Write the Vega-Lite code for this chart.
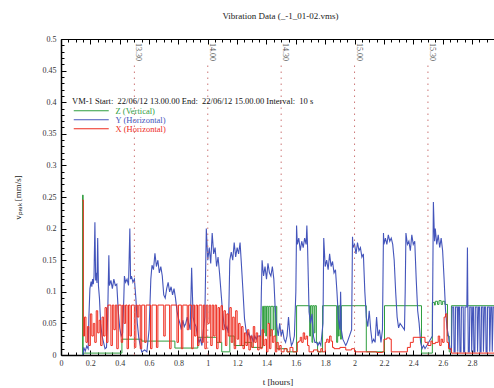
{
"$schema": "https://vega.github.io/schema/vega-lite/v6.json",
"autosize": "none",
"width": 433, "height": 316,
"padding": {"left": 61, "top": 39, "right": 0, "bottom": 33},
"background": "white",
"title": {"text": "Vibration Data (_-1_01-02.vms)", "font": "Liberation Serif", "fontSize": 9, "fontWeight": "normal", "color": "#222", "offset": 14, "dx": 3},
"config": {"view": {"stroke": null}, "axis": {"labelFont": "Liberation Serif", "titleFont": "Liberation Serif", "labelFontSize": 8, "titleFontSize": 9, "titleFontWeight": "normal", "labelColor": "#333", "titleColor": "#222", "grid": false, "domainColor": "#000", "tickColor": "#000"}},
"datasets": {
"Z": [{"t":0.145,"v":0},{"t":0.147,"v":0.253},{"t":0.151,"v":0.003},{"t":0.415,"v":0.025},{"t":0.55,"v":0.022},{"t":0.776,"v":0.011},{"t":0.932,"v":0.028},{"t":1.06,"v":0.02},{"t":1.095,"v":0.005},{"t":1.15,"v":0.03},{"t":1.18,"v":0.015},{"t":1.25,"v":0.02},{"t":1.30,"v":0.012},{"t":1.374,"v":0.077},{"t":1.38,"v":0.035},{"t":1.385,"v":0.077},{"t":1.395,"v":0.03},{"t":1.40,"v":0.077},{"t":1.41,"v":0.05},{"t":1.415,"v":0.077},{"t":1.425,"v":0.03},{"t":1.43,"v":0.077},{"t":1.445,"v":0.04},{"t":1.45,"v":0.077},{"t":1.46,"v":0.03},{"t":1.465,"v":0.077},{"t":1.47,"v":0.01},{"t":1.54,"v":0.005},{"t":1.605,"v":0.078},{"t":1.694,"v":0.03},{"t":1.70,"v":0.078},{"t":1.71,"v":0.02},{"t":1.715,"v":0.078},{"t":1.725,"v":0.035},{"t":1.73,"v":0.078},{"t":1.74,"v":0.02},{"t":1.748,"v":0.005},{"t":1.782,"v":0.078},{"t":1.878,"v":0.02},{"t":1.885,"v":0.078},{"t":1.89,"v":0.03},{"t":1.895,"v":0.078},{"t":1.905,"v":0.025},{"t":1.91,"v":0.078},{"t":2.08,"v":0.005},{"t":2.204,"v":0.078},{"t":2.456,"v":0.003},{"t":2.53,"v":0.083},{"t":2.545,"v":0.079},{"t":2.55,"v":0.085},{"t":2.565,"v":0.08},{"t":2.575,"v":0.086},{"t":2.59,"v":0.08},{"t":2.60,"v":0.085},{"t":2.615,"v":0.08},{"t":2.633,"v":0.03},{"t":2.645,"v":0.005},{"t":2.66,"v":0.078},{"t":2.95,"v":0.078}],
"Y": [{"t":0.15,"v":0},{"t":0.155,"v":0.012},{"t":0.165,"v":0.006},{"t":0.175,"v":0.014},{"t":0.185,"v":0.01},{"t":0.19,"v":0.06},{"t":0.197,"v":0.105},{"t":0.205,"v":0.116},{"t":0.21,"v":0.108},{"t":0.215,"v":0.12},{"t":0.22,"v":0.112},{"t":0.225,"v":0.125},{"t":0.231,"v":0.21},{"t":0.236,"v":0.118},{"t":0.24,"v":0.13},{"t":0.245,"v":0.114},{"t":0.25,"v":0.185},{"t":0.255,"v":0.11},{"t":0.262,"v":0.09},{"t":0.27,"v":0.05},{"t":0.28,"v":0.03},{"t":0.29,"v":0.02},{"t":0.30,"v":0.01},{"t":0.31,"v":0.012},{"t":0.318,"v":0.06},{"t":0.322,"v":0.112},{"t":0.326,"v":0.158},{"t":0.33,"v":0.11},{"t":0.34,"v":0.118},{"t":0.35,"v":0.105},{"t":0.36,"v":0.12},{"t":0.37,"v":0.11},{"t":0.38,"v":0.112},{"t":0.39,"v":0.07},{"t":0.40,"v":0.043},{"t":0.41,"v":0.03},{"t":0.42,"v":0.035},{"t":0.428,"v":0.09},{"t":0.432,"v":0.125},{"t":0.44,"v":0.115},{"t":0.45,"v":0.12},{"t":0.46,"v":0.11},{"t":0.469,"v":0.2},{"t":0.474,"v":0.12},{"t":0.48,"v":0.125},{"t":0.49,"v":0.115},{"t":0.50,"v":0.12},{"t":0.51,"v":0.09},{"t":0.52,"v":0.05},{"t":0.53,"v":0.027},{"t":0.54,"v":0.015},{"t":0.55,"v":0.005},{"t":0.57,"v":0.008},{"t":0.585,"v":0.005},{"t":0.60,"v":0.04},{"t":0.612,"v":0.12},{"t":0.62,"v":0.142},{"t":0.63,"v":0.135},{"t":0.64,"v":0.161},{"t":0.65,"v":0.14},{"t":0.66,"v":0.15},{"t":0.67,"v":0.13},{"t":0.68,"v":0.14},{"t":0.69,"v":0.125},{"t":0.70,"v":0.095},{"t":0.71,"v":0.09},{"t":0.72,"v":0.105},{"t":0.73,"v":0.115},{"t":0.74,"v":0.1},{"t":0.75,"v":0.108},{"t":0.76,"v":0.095},{"t":0.77,"v":0.105},{"t":0.78,"v":0.09},{"t":0.79,"v":0.07},{"t":0.80,"v":0.058},{"t":0.81,"v":0.05},{"t":0.82,"v":0.04},{"t":0.83,"v":0.055},{"t":0.84,"v":0.045},{"t":0.85,"v":0.05},{"t":0.86,"v":0.06},{"t":0.87,"v":0.05},{"t":0.88,"v":0.04},{"t":0.89,"v":0.138},{"t":0.90,"v":0.06},{"t":0.91,"v":0.05},{"t":0.92,"v":0.045},{"t":0.93,"v":0.03},{"t":0.94,"v":0.02},{"t":0.95,"v":0.025},{"t":0.96,"v":0.015},{"t":0.97,"v":0.04},{"t":0.98,"v":0.06},{"t":0.99,"v":0.2},{"t":1.00,"v":0.15},{"t":1.01,"v":0.17},{"t":1.02,"v":0.145},{"t":1.03,"v":0.193},{"t":1.04,"v":0.16},{"t":1.05,"v":0.17},{"t":1.06,"v":0.14},{"t":1.07,"v":0.155},{"t":1.08,"v":0.13},{"t":1.09,"v":0.1},{"t":1.10,"v":0.07},{"t":1.11,"v":0.05},{"t":1.12,"v":0.04},{"t":1.13,"v":0.045},{"t":1.14,"v":0.035},{"t":1.145,"v":0.09},{"t":1.15,"v":0.15},{"t":1.16,"v":0.163},{"t":1.17,"v":0.15},{"t":1.18,"v":0.178},{"t":1.19,"v":0.155},{"t":1.20,"v":0.17},{"t":1.21,"v":0.16},{"t":1.22,"v":0.178},{"t":1.23,"v":0.14},{"t":1.24,"v":0.1},{"t":1.25,"v":0.058},{"t":1.26,"v":0.04},{"t":1.27,"v":0.03},{"t":1.28,"v":0.035},{"t":1.29,"v":0.025},{"t":1.30,"v":0.03},{"t":1.31,"v":0.02},{"t":1.32,"v":0.03},{"t":1.33,"v":0.025},{"t":1.34,"v":0.03},{"t":1.36,"v":0.03},{"t":1.365,"v":0.1},{"t":1.37,"v":0.15},{"t":1.38,"v":0.125},{"t":1.39,"v":0.14},{"t":1.40,"v":0.12},{"t":1.41,"v":0.145},{"t":1.42,"v":0.13},{"t":1.43,"v":0.125},{"t":1.44,"v":0.14},{"t":1.45,"v":0.12},{"t":1.46,"v":0.07},{"t":1.47,"v":0.045},{"t":1.48,"v":0.03},{"t":1.49,"v":0.05},{"t":1.50,"v":0.03},{"t":1.51,"v":0.04},{"t":1.52,"v":0.025},{"t":1.53,"v":0.02},{"t":1.54,"v":0.03},{"t":1.55,"v":0.06},{"t":1.56,"v":0.03},{"t":1.57,"v":0.015},{"t":1.58,"v":0.02},{"t":1.59,"v":0.03},{"t":1.60,"v":0.1},{"t":1.605,"v":0.205},{"t":1.61,"v":0.175},{"t":1.62,"v":0.185},{"t":1.63,"v":0.165},{"t":1.64,"v":0.18},{"t":1.65,"v":0.17},{"t":1.66,"v":0.185},{"t":1.67,"v":0.175},{"t":1.675,"v":0.205},{"t":1.68,"v":0.17},{"t":1.69,"v":0.068},{"t":1.70,"v":0.05},{"t":1.71,"v":0.065},{"t":1.72,"v":0.03},{"t":1.73,"v":0.02},{"t":1.74,"v":0.02},{"t":1.75,"v":0.015},{"t":1.76,"v":0.02},{"t":1.77,"v":0.015},{"t":1.785,"v":0.05},{"t":1.79,"v":0.185},{"t":1.80,"v":0.14},{"t":1.81,"v":0.15},{"t":1.82,"v":0.135},{"t":1.83,"v":0.16},{"t":1.84,"v":0.14},{"t":1.85,"v":0.148},{"t":1.86,"v":0.13},{"t":1.87,"v":0.135},{"t":1.88,"v":0.1},{"t":1.89,"v":0.058},{"t":1.90,"v":0.04},{"t":1.905,"v":0.1},{"t":1.91,"v":0.04},{"t":1.92,"v":0.025},{"t":1.93,"v":0.02},{"t":1.94,"v":0.015},{"t":1.95,"v":0.02},{"t":1.98,"v":0.04},{"t":1.986,"v":0.187},{"t":1.99,"v":0.17},{"t":2.00,"v":0.175},{"t":2.01,"v":0.16},{"t":2.02,"v":0.178},{"t":2.03,"v":0.165},{"t":2.04,"v":0.17},{"t":2.05,"v":0.155},{"t":2.06,"v":0.16},{"t":2.07,"v":0.1},{"t":2.08,"v":0.06},{"t":2.09,"v":0.045},{"t":2.10,"v":0.07},{"t":2.11,"v":0.04},{"t":2.12,"v":0.02},{"t":2.13,"v":0.025},{"t":2.14,"v":0.02},{"t":2.15,"v":0.06},{"t":2.16,"v":0.03},{"t":2.17,"v":0.04},{"t":2.18,"v":0.02},{"t":2.19,"v":0.04},{"t":2.197,"v":0.193},{"t":2.20,"v":0.175},{"t":2.21,"v":0.185},{"t":2.22,"v":0.175},{"t":2.23,"v":0.19},{"t":2.24,"v":0.18},{"t":2.25,"v":0.185},{"t":2.26,"v":0.175},{"t":2.27,"v":0.15},{"t":2.28,"v":0.1},{"t":2.29,"v":0.06},{"t":2.30,"v":0.043},{"t":2.31,"v":0.05},{"t":2.34,"v":0.04},{"t":2.345,"v":0.1},{"t":2.35,"v":0.193},{"t":2.36,"v":0.175},{"t":2.37,"v":0.18},{"t":2.38,"v":0.165},{"t":2.39,"v":0.19},{"t":2.40,"v":0.175},{"t":2.41,"v":0.18},{"t":2.42,"v":0.12},{"t":2.43,"v":0.07},{"t":2.44,"v":0.05},{"t":2.45,"v":0.02},{"t":2.46,"v":0.01},{"t":2.47,"v":0.015},{"t":2.48,"v":0.01},{"t":2.53,"v":0.03},{"t":2.537,"v":0.242},{"t":2.545,"v":0.18},{"t":2.55,"v":0.2},{"t":2.56,"v":0.175},{"t":2.57,"v":0.19},{"t":2.58,"v":0.17},{"t":2.59,"v":0.185},{"t":2.60,"v":0.165},{"t":2.61,"v":0.12},{"t":2.62,"v":0.07},{"t":2.63,"v":0.043},{"t":2.64,"v":0.03},{"t":2.65,"v":0.01},{"t":2.66,"v":0.005},{"t":2.665,"v":0.076},{"t":2.675,"v":0.076},{"t":2.678,"v":0.005},{"t":2.685,"v":0.005},{"t":2.688,"v":0.076},{"t":2.70,"v":0.076},{"t":2.703,"v":0.005},{"t":2.708,"v":0.076},{"t":2.715,"v":0.076},{"t":2.718,"v":0.005},{"t":2.725,"v":0.005},{"t":2.728,"v":0.076},{"t":2.74,"v":0.076},{"t":2.743,"v":0.005},{"t":2.75,"v":0.005},{"t":2.753,"v":0.076},{"t":2.765,"v":0.076},{"t":2.769,"v":0.17},{"t":2.772,"v":0.076},{"t":2.775,"v":0.005},{"t":2.782,"v":0.005},{"t":2.785,"v":0.076},{"t":2.795,"v":0.076},{"t":2.798,"v":0.005},{"t":2.805,"v":0.076},{"t":2.81,"v":0.076},{"t":2.813,"v":0.005},{"t":2.82,"v":0.005},{"t":2.823,"v":0.076},{"t":2.835,"v":0.076},{"t":2.838,"v":0.005},{"t":2.845,"v":0.076},{"t":2.852,"v":0.076},{"t":2.855,"v":0.005},{"t":2.862,"v":0.005},{"t":2.865,"v":0.076},{"t":2.875,"v":0.076},{"t":2.878,"v":0.005},{"t":2.885,"v":0.076},{"t":2.893,"v":0.076},{"t":2.896,"v":0.005},{"t":2.903,"v":0.005},{"t":2.906,"v":0.076},{"t":2.918,"v":0.076},{"t":2.921,"v":0.005},{"t":2.928,"v":0.076},{"t":2.935,"v":0.076},{"t":2.938,"v":0.005},{"t":2.945,"v":0.076},{"t":2.95,"v":0.076}],
"X": [{"t":0.145,"v":0.245},{"t":0.152,"v":0.03},{"t":0.16,"v":0.06},{"t":0.17,"v":0.02},{"t":0.18,"v":0.045},{"t":0.19,"v":0.015},{"t":0.20,"v":0.065},{"t":0.21,"v":0.03},{"t":0.22,"v":0.05},{"t":0.23,"v":0.02},{"t":0.24,"v":0.07},{"t":0.25,"v":0.035},{"t":0.26,"v":0.055},{"t":0.27,"v":0.015},{"t":0.28,"v":0.06},{"t":0.29,"v":0.03},{"t":0.30,"v":0.075},{"t":0.31,"v":0.02},{"t":0.32,"v":0.079},{"t":0.34,"v":0.015},{"t":0.35,"v":0.079},{"t":0.36,"v":0.04},{"t":0.37,"v":0.079},{"t":0.38,"v":0.01},{"t":0.39,"v":0.079},{"t":0.41,"v":0.02},{"t":0.42,"v":0.079},{"t":0.43,"v":0.05},{"t":0.44,"v":0.079},{"t":0.45,"v":0.01},{"t":0.46,"v":0.079},{"t":0.47,"v":0.03},{"t":0.48,"v":0.079},{"t":0.50,"v":0.012},{"t":0.51,"v":0.079},{"t":0.52,"v":0.06},{"t":0.53,"v":0.079},{"t":0.54,"v":0.01},{"t":0.55,"v":0.079},{"t":0.57,"v":0.02},{"t":0.58,"v":0.079},{"t":0.61,"v":0.01},{"t":0.62,"v":0.079},{"t":0.65,"v":0.012},{"t":0.66,"v":0.079},{"t":0.70,"v":0.03},{"t":0.71,"v":0.079},{"t":0.74,"v":0.01},{"t":0.75,"v":0.079},{"t":0.79,"v":0.02},{"t":0.80,"v":0.079},{"t":0.82,"v":0.01},{"t":0.83,"v":0.079},{"t":0.86,"v":0.04},{"t":0.87,"v":0.079},{"t":0.89,"v":0.01},{"t":0.90,"v":0.079},{"t":0.91,"v":0.03},{"t":0.92,"v":0.079},{"t":0.93,"v":0.015},{"t":0.94,"v":0.079},{"t":0.96,"v":0.02},{"t":0.97,"v":0.079},{"t":0.98,"v":0.01},{"t":0.99,"v":0.079},{"t":1.00,"v":0.05},{"t":1.01,"v":0.079},{"t":1.02,"v":0.015},{"t":1.03,"v":0.079},{"t":1.04,"v":0.03},{"t":1.05,"v":0.079},{"t":1.06,"v":0.01},{"t":1.07,"v":0.075},{"t":1.08,"v":0.02},{"t":1.09,"v":0.078},{"t":1.10,"v":0.04},{"t":1.11,"v":0.07},{"t":1.12,"v":0.015},{"t":1.13,"v":0.065},{"t":1.14,"v":0.03},{"t":1.15,"v":0.075},{"t":1.16,"v":0.02},{"t":1.17,"v":0.06},{"t":1.18,"v":0.01},{"t":1.19,"v":0.07},{"t":1.20,"v":0.025},{"t":1.21,"v":0.05},{"t":1.22,"v":0.015},{"t":1.23,"v":0.045},{"t":1.24,"v":0.01},{"t":1.25,"v":0.035},{"t":1.26,"v":0.015},{"t":1.27,"v":0.04},{"t":1.28,"v":0.008},{"t":1.29,"v":0.03},{"t":1.30,"v":0.012},{"t":1.31,"v":0.045},{"t":1.32,"v":0.02},{"t":1.33,"v":0.035},{"t":1.34,"v":0.008},{"t":1.35,"v":0.03},{"t":1.36,"v":0.01},{"t":1.37,"v":0.04},{"t":1.38,"v":0.015},{"t":1.39,"v":0.025},{"t":1.40,"v":0.005},{"t":1.41,"v":0.05},{"t":1.42,"v":0.01},{"t":1.43,"v":0.04},{"t":1.44,"v":0.02},{"t":1.45,"v":0.03},{"t":1.46,"v":0.005},{"t":1.47,"v":0.02},{"t":1.48,"v":0.008},{"t":1.49,"v":0.015},{"t":1.50,"v":0.005},{"t":1.52,"v":0.01},{"t":1.54,"v":0.005},{"t":1.56,"v":0.012},{"t":1.58,"v":0.005},{"t":1.61,"v":0.02},{"t":1.62,"v":0.022},{"t":1.63,"v":0.028},{"t":1.64,"v":0.02},{"t":1.65,"v":0.035},{"t":1.66,"v":0.025},{"t":1.67,"v":0.03},{"t":1.68,"v":0.015},{"t":1.69,"v":0.005},{"t":1.72,"v":0.008},{"t":1.75,"v":0.005},{"t":1.77,"v":0.01},{"t":1.78,"v":0.005},{"t":1.80,"v":0.02},{"t":1.81,"v":0.025},{"t":1.82,"v":0.02},{"t":1.83,"v":0.03},{"t":1.84,"v":0.022},{"t":1.85,"v":0.012},{"t":1.86,"v":0.01},{"t":1.90,"v":0.012},{"t":1.94,"v":0.008},{"t":1.98,"v":0.01},{"t":2.00,"v":0.005},{"t":2.15,"v":0.004},{"t":2.19,"v":0.005},{"t":2.20,"v":0.025},{"t":2.22,"v":0.027},{"t":2.24,"v":0.025},{"t":2.25,"v":0.005},{"t":2.36,"v":0.012},{"t":2.38,"v":0.02},{"t":2.40,"v":0.028},{"t":2.48,"v":0.02},{"t":2.50,"v":0.015},{"t":2.52,"v":0.022},{"t":2.53,"v":0.018},{"t":2.55,"v":0.02},{"t":2.57,"v":0.03},{"t":2.58,"v":0.015},{"t":2.59,"v":0.025},{"t":2.60,"v":0.02},{"t":2.61,"v":0.06},{"t":2.62,"v":0.065},{"t":2.63,"v":0.02},{"t":2.64,"v":0.01},{"t":2.66,"v":0.003},{"t":2.95,"v":0.003}],
"marks": [{"t":0.5,"lab":"13.30"},{"t":1.0,"lab":"14.00"},{"t":1.5,"lab":"14.30"},{"t":2.0,"lab":"15.00"},{"t":2.5,"lab":"15.30"}]
},
"layer": [
{"data": {"name": "Z"}, "mark": {"type": "line", "interpolate": "step-after", "strokeWidth": 1, "clip": true},
 "encoding": {
  "x": {"field": "t", "type": "quantitative", "scale": {"domain": [0, 2.95], "nice": false, "zero": false},
        "axis": {"orient": "bottom", "title": "t [hours]", "titlePadding": 10, "values": [0,0.2,0.4,0.6,0.8,1,1.2,1.4,1.6,1.8,2,2.2,2.4,2.6,2.8], "format": "~g", "tickSize": -5, "labelPadding": 9, "domainWidth": 1.5, "labelAngle": 0, "labelFlush": false, "labelOverlap": false}},
  "y": {"field": "v", "type": "quantitative", "scale": {"domain": [0, 0.5], "nice": false, "zero": true},
        "axis": {"orient": "left", "title": "vₚₑₐₖ [mm/s]", "titlePadding": 20, "values": [0,0.05,0.1,0.15,0.2,0.25,0.3,0.35,0.4,0.45,0.5], "format": "~g", "tickSize": -5, "labelPadding": 10, "domainWidth": 1.5, "labelFlush": false, "labelOverlap": false}},
  "color": {"datum": "Z (Vertical)", "type": "nominal",
        "scale": {"domain": ["Z (Vertical)", "Y (Horizontal)", "X (Horizontal)"], "range": ["#2f9e3f", "#4455bb", "#ee2b1e"]},
        "legend": {"orient": "none", "legendX": 11, "legendY": 58, "title": "VM-1 Start:\u00a0 22/06/12 13.00.00 End:\u00a0 22/06/12 15.00.00 Interval:\u00a0 10 s", "titleFont": "Liberation Serif", "titleFontSize": 8.5, "titleFontWeight": "normal", "titleColor": "#111", "titlePadding": 1, "titleLimit": 400, "labelFont": "Liberation Serif", "labelFontSize": 8.5, "symbolType": "M-1,0H13", "symbolSize": 25, "symbolStrokeWidth": 1, "labelOffset": 35, "rowPadding": 0, "padding": 0, "encode": {"labels": {"update": {"fill": {"scale": "color", "field": "value"}}}}}}
 }},
{"data": {"name": "Y"}, "mark": {"type": "line", "interpolate": "linear", "strokeWidth": 1.1, "clip": true},
 "encoding": {
  "x": {"field": "t", "type": "quantitative", "axis": {"orient": "top", "title": null, "labels": false, "values": [0,0.2,0.4,0.6,0.8,1,1.2,1.4,1.6,1.8,2,2.2,2.4,2.6,2.8], "tickSize": -5, "domainWidth": 1}},
  "y": {"field": "v", "type": "quantitative", "axis": {"orient": "left", "title": null, "labels": false, "domain": false, "tickSize": -3, "values": [0.01,0.02,0.03,0.04,0.06,0.07,0.08,0.09,0.11,0.12,0.13,0.14,0.16,0.17,0.18,0.19,0.21,0.22,0.23,0.24,0.26,0.27,0.28,0.29,0.31,0.32,0.33,0.34,0.36,0.37,0.38,0.39,0.41,0.42,0.43,0.44,0.46,0.47,0.48,0.49]}},
  "color": {"datum": "Y (Horizontal)", "type": "nominal"}
 }},
{"data": {"name": "X"}, "mark": {"type": "line", "interpolate": "step-after", "strokeWidth": 1, "clip": true},
 "encoding": {
  "x": {"field": "t", "type": "quantitative", "axis": {"orient": "bottom", "title": null, "labels": false, "domain": false, "tickSize": -3, "values": [0.05,0.1,0.15,0.25,0.3,0.35,0.45,0.5,0.55,0.65,0.7,0.75,0.85,0.9,0.95,1.05,1.1,1.15,1.25,1.3,1.35,1.45,1.5,1.55,1.65,1.7,1.75,1.85,1.9,1.95,2.05,2.1,2.15,2.25,2.3,2.35,2.45,2.5,2.55,2.65,2.7,2.75,2.85,2.9]}},
  "y": {"field": "v", "type": "quantitative", "axis": null},
  "color": {"datum": "X (Horizontal)", "type": "nominal"}
 }},
{"data": {"name": "marks"}, "mark": {"type": "rule", "stroke": "#cc7777", "strokeWidth": 1, "strokeDash": [1.5, 4.5]},
 "encoding": {
  "x": {"field": "t", "type": "quantitative", "axis": {"orient": "top", "title": null, "labels": false, "domain": false, "tickSize": -3, "values": [0.05,0.1,0.15,0.25,0.3,0.35,0.45,0.5,0.55,0.65,0.7,0.75,0.85,0.9,0.95,1.05,1.1,1.15,1.25,1.3,1.35,1.45,1.5,1.55,1.65,1.7,1.75,1.85,1.9,1.95,2.05,2.1,2.15,2.25,2.3,2.35,2.45,2.5,2.55,2.65,2.7,2.75,2.85,2.9]}},
  "y": {"datum": 0, "type": "quantitative", "axis": null},
  "y2": {"datum": 0.462}
 }},
{"data": {"name": "marks"}, "mark": {"type": "text", "angle": 90, "align": "left", "baseline": "middle", "dx": 4, "dy": -4, "font": "Liberation Serif", "fontSize": 8, "fill": "#555"},
 "encoding": {
  "x": {"field": "t", "type": "quantitative", "axis": null},
  "y": {"datum": 0.5, "type": "quantitative", "axis": null},
  "text": {"field": "lab"}
 }}
],
"resolve": {"axis": {"x": "independent", "y": "independent"}}
}
